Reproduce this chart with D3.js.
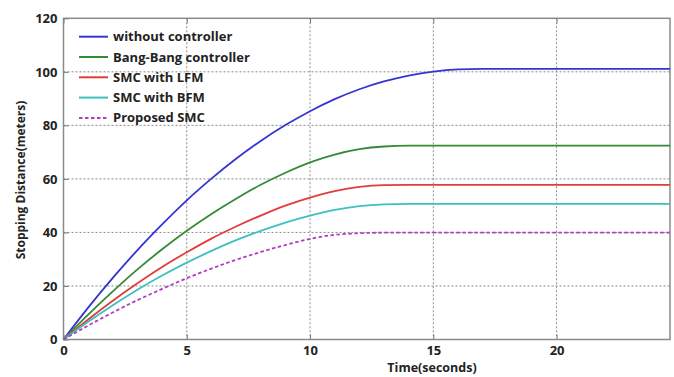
<!DOCTYPE html>
<html><head><meta charset="utf-8">
<script src="https://cdn.jsdelivr.net/npm/d3@7"></script>
<style>
html,body{margin:0;padding:0;background:#fff;}
svg text{font-family:"Open Sans",sans-serif;font-weight:bold;fill:#222;}
</style></head>
<body><svg id="c" width="674" height="377"></svg>
<script>
const time = [0,1,2,3,4,5,6,7,8,9,10,11,12,13,14,15,16,17,24.6];
const withoutController = [0,11.9,23,33.4,43,52,60.1,67.5,74.2,80.1,85.3,89.8,93.5,96.4,98.6,100.1,100.9,101.1,101.1];
const bangBang = [0,9.3,18,26.2,33.7,40.6,46.9,52.6,57.8,62.3,66.2,69.1,71.1,72.1,72.4,72.4,72.4,72.4,72.4];
const smcLFM = [0,7.5,14.5,21,27.1,32.6,37.7,42.2,46.3,50,53,55.4,57,57.7,57.8,57.8,57.8,57.8,57.8];
const smcBFM = [0,6.6,12.8,18.6,23.9,28.7,33.1,37.1,40.6,43.7,46.3,48.4,49.8,50.5,50.7,50.7,50.7,50.7,50.7];
const proposedSMC = [0,5.2,10.1,14.7,18.9,22.9,26.5,29.8,32.7,35.3,37.6,39.1,39.7,39.9,39.9,39.9,39.9,39.9,39.9];
const seriesNames = ["without controller","Bang-Bang controller","SMC with LFM","SMC with BFM","Proposed SMC"];
const xTicks = [0,5,10,15,20];
const yTicks = [0,20,40,60,80,100,120];

const colors = ["#3535d2","#368a36","#e23c3c","#3cc0c0","#b23cc0"];
const dashes = [null,null,null,null,"3.5,2.5"];
const allSeries = [withoutController,bangBang,smcLFM,smcBFM,proposedSMC];

const svg = d3.select("#c");
const L=63.5, R=670, T=18.3, B=339.5;
const x = d3.scaleLinear().domain([0,24.6]).range([L,R]);
const y = d3.scaleLinear().domain([0,120]).range([B,T]);

// grid
const g = svg.append("g");
g.selectAll(".gx").data(xTicks.filter(d=>d>0)).enter().append("line")
  .attr("x1",d=>x(d)).attr("x2",d=>x(d)).attr("y1",T).attr("y2",B)
  .attr("stroke","#8a8a8a").attr("stroke-width",1).attr("stroke-dasharray","2,2");
g.selectAll(".gy").data(yTicks.filter(d=>d>0&&d<120)).enter().append("line")
  .attr("x1",L).attr("x2",R).attr("y1",d=>y(d)).attr("y2",d=>y(d))
  .attr("stroke","#8a8a8a").attr("stroke-width",1).attr("stroke-dasharray","2,2");

// axes
const xAxis = d3.axisBottom(x).tickValues(xTicks).tickSize(-5).tickPadding(6).tickSizeOuter(0);
const yAxis = d3.axisLeft(y).tickValues(yTicks).tickSize(-5).tickPadding(6).tickSizeOuter(0);
const gx = svg.append("g").attr("transform",`translate(0,${B})`).call(xAxis);
const gy = svg.append("g").attr("transform",`translate(${L},0)`).call(yAxis);
[gx,gy].forEach(a=>{
  a.select(".domain").remove();
  a.selectAll(".tick line").attr("stroke","#777");
  a.selectAll(".tick text").style("font-size","13px").attr("fill","#222");
});
// top ticks
svg.append("g").attr("transform",`translate(0,${T})`)
  .call(d3.axisTop(x).tickValues(xTicks).tickSize(-5).tickFormat(""))
  .call(a=>{a.select(".domain").remove();a.selectAll("line").attr("stroke","#777");});

// frame
svg.append("rect").attr("x",L).attr("y",T).attr("width",R-L).attr("height",B-T)
  .attr("fill","none").attr("stroke","#8a8a8a").attr("stroke-width",1.5);

// lines
const line = d3.line().curve(d3.curveMonotoneX);
allSeries.forEach((s,i)=>{
  svg.append("path").attr("d",line(time.map((t,j)=>[x(t),y(s[j])])))
    .attr("fill","none").attr("stroke",colors[i]).attr("stroke-width",1.8)
    .attr("stroke-dasharray",dashes[i]);
});

// legend
const lg = svg.append("g");
seriesNames.forEach((n,i)=>{
  const yy = 36.7 + i*20.3;
  lg.append("line").attr("x1",79).attr("x2",108).attr("y1",yy).attr("y2",yy)
    .attr("stroke",colors[i]).attr("stroke-width",2).attr("stroke-dasharray",dashes[i]);
  lg.append("text").attr("x",113).attr("y",yy).attr("dy","0.35em")
    .style("font-size","13px").text(n);
});

// axis labels
svg.append("text").attr("x",432).attr("y",367.5).attr("dy","0.35em").attr("text-anchor","middle")
  .style("font-size","12.5px").text("Time(seconds)");
svg.append("text").attr("transform","translate(21,180) rotate(-90)").attr("dy","0.35em")
  .attr("text-anchor","middle").style("font-size","12px").text("Stopping Distance(meters)");
</script></body></html>
